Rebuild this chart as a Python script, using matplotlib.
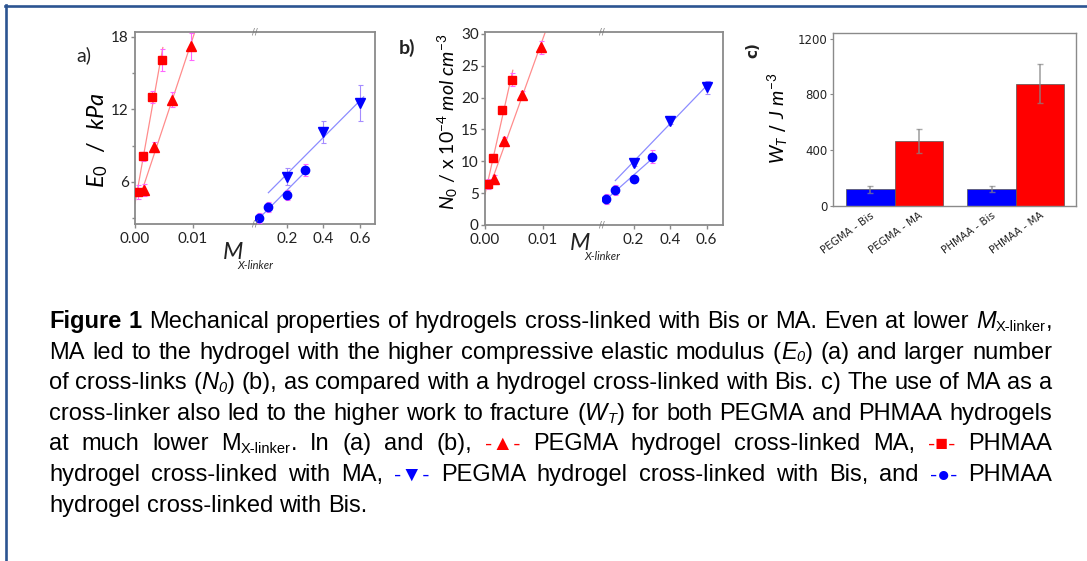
import numpy as np
import matplotlib.pyplot as plt
from matplotlib.transforms import IdentityTransform
from matplotlib.lines import Line2D

W, H = 1087, 561
plt.rcParams['mathtext.fontset'] = 'custom'
plt.rcParams['mathtext.it'] = 'Lato:italic'
plt.rcParams['mathtext.rm'] = 'Lato'
plt.rcParams['mathtext.bf'] = 'Lato:bold'

RED, BLUE = '#ff0000', '#0000ff'
SPINE = '#8a8a8a'

# cross-linker mole fraction
ma_x = [0.0005, 0.0014, 0.0030, 0.0046]       # PHMAA - MA (squares)
ma_x_peg = [0.0016, 0.0033, 0.0064, 0.0096]   # PEGMA - MA (triangles)
bis_x = [0.05, 0.10, 0.20, 0.30]              # PHMAA - Bis (circles)
bis_x_peg = [0.20, 0.40, 0.60]                # PEGMA - Bis (down triangles)

# (a) compressive elastic modulus, kPa
e0_phmaa_ma = [5.15, 8.1, 13.0, 16.1]
e0_phmaa_ma_err = [0.6, 0.4, 0.5, 0.9]
e0_pegma_ma = [5.3, 8.9, 12.8, 17.2]
e0_pegma_ma_err = [0.5, 0.4, 0.6, 1.1]
e0_phmaa_bis = [3.0, 3.9, 4.9, 7.0]
e0_phmaa_bis_err = [0.4, 0.4, 0.4, 0.5]
e0_pegma_bis = [6.4, 10.1, 12.5]
e0_pegma_bis_err = [0.7, 0.9, 1.5]

# (b) cross-link density, x 10^-4 mol cm^-3
n0_phmaa_ma = [6.4, 10.5, 18.1, 22.8]
n0_phmaa_ma_err = [0.8, 0.6, 0.6, 1.0]
n0_pegma_ma = [7.2, 13.2, 20.4, 27.9]
n0_pegma_ma_err = [0.7, 0.6, 0.6, 1.0]
n0_phmaa_bis = [4.1, 5.5, 7.2, 10.7]
n0_phmaa_bis_err = [0.8, 0.8, 0.5, 1.0]
n0_pegma_bis = [9.7, 16.4, 21.6]
n0_pegma_bis_err = [0.5, 0.5, 1.0]

# (c) work to fracture, J m^-3
wt_labels = ['PEGMA - Bis', 'PEGMA - MA', 'PHMAA - Bis', 'PHMAA - MA']
wt_values = [120, 465, 120, 875]
wt_err = [25, 87, 20, 140]
wt_colors = [BLUE, RED, BLUE, RED]
wt_pos = [0, 1, 2.5, 3.5]

fig = plt.figure(figsize=(W / 100, H / 100), dpi=100)
fig.patch.set_facecolor('white')


def px_rect(x0, y0, x1, y1):
    return [x0 / W, 1 - y1 / H, (x1 - x0) / W, (y1 - y0) / H]


def style_axes(ax):
    for s in ax.spines.values():
        s.set_color(SPINE)
        s.set_linewidth(1.3)
    ax.tick_params(colors=SPINE, labelcolor='#222222', length=3, width=1,
                   labelsize=11, pad=1.5)
    ax.tick_params(axis='x', pad=3)
    for lab in ax.get_xticklabels() + ax.get_yticklabels():
        lab.set_fontfamily('Lato')


def broken_axes(x0, xm, x1, y0, y1, lo_lim, hi_lim, ylim):
    axl = fig.add_axes(px_rect(x0, y0, xm, y1))
    axr = fig.add_axes(px_rect(xm, y0, x1, y1), sharey=axl)
    axl.set_xlim(*lo_lim)
    axr.set_xlim(*hi_lim)
    axl.set_ylim(*ylim)
    axl.spines['right'].set_visible(False)
    axr.spines['left'].set_visible(False)
    axl.set_xticks([0, 0.01])
    axl.set_xticklabels(['0.00', '0.01'])
    axr.set_xticks([0.2, 0.4, 0.6])
    axr.set_xticklabels(['0.2', '0.4', '0.6'])
    for yy in (y0, y1):
        fig.text(xm / W, 1 - yy / H, '//', ha='center', va='center',
                 fontsize=6, color='#777777', family='DejaVu Sans')
    return axl, axr


def series(ax, x, y, err, marker, color, ecolor, ms, fit_span):
    x = np.asarray(x)
    y = np.asarray(y)
    p = np.polyfit(x, y, 1)
    xx = np.array(fit_span)
    ax.plot(xx, np.polyval(p, xx), color=color, lw=0.9, alpha=0.45, zorder=2)
    ax.errorbar(x, y, yerr=err, fmt=marker, color=color, ms=ms,
                ecolor=ecolor, elinewidth=0.8, capsize=1.8, capthick=0.8,
                zorder=3, mec=color)


def draw_panel(axl, axr, sq, sq_e, tr, tr_e, ci, ci_e, dt, dt_e):
    series(axl, ma_x, sq, sq_e, 's', RED, '#ff66ff', 5.2, [0.0, 0.0048])
    series(axl, ma_x_peg, tr, tr_e, '^', RED, '#ff66ff', 6.5, [0.0012, 0.0106])
    series(axr, bis_x, ci, ci_e, 'o', BLUE, '#ff66ff', 6.0, [0.04, 0.31])
    series(axr, bis_x_peg, dt, dt_e, 'v', BLUE, '#a58cff', 6.5, [0.10, 0.62])


# panel a
a_l, a_r = broken_axes(135, 255, 375, 32, 224, (0, 0.0207), (0.027, 0.682), (2.5, 18.4))
a_l.set_yticks([6, 12, 18])
a_l.set_yticks([3, 9, 15], minor=True)
draw_panel(a_l, a_r, e0_phmaa_ma, e0_phmaa_ma_err, e0_pegma_ma, e0_pegma_ma_err,
           e0_phmaa_bis, e0_phmaa_bis_err, e0_pegma_bis, e0_pegma_bis_err)

# panel b
b_l, b_r = broken_axes(485, 602, 723, 32, 225, (0, 0.0202), (0.027, 0.69), (0, 30.3))
b_l.set_yticks(np.arange(0, 31, 5))
draw_panel(b_l, b_r, n0_phmaa_ma, n0_phmaa_ma_err, n0_pegma_ma, n0_pegma_ma_err,
           n0_phmaa_bis, n0_phmaa_bis_err, n0_pegma_bis, n0_pegma_bis_err)

for ax in (a_l, a_r, b_l, b_r):
    style_axes(ax)
    ax.tick_params(which='minor', colors=SPINE, length=2, width=1)
    ax.tick_params(which='both', top=False, right=False)
for ax in (a_r, b_r):
    ax.tick_params(which='both', left=False, labelleft=False)

fig.text(98 / W, 1 - 140 / H, r'$E_0\ \ /\ \ kPa$', rotation=90, ha='center',
         va='center', fontsize=17)
fig.text(448 / W, 1 - 122 / H, r'$N_0$ / x 10$^{-4}$ $mol\ cm^{-3}$', rotation=90,
         ha='center', va='center', fontsize=14, family='Lato')

# x-axis labels
for xm, ym in ((223, 259), (570, 250)):
    fig.text(xm / W, 1 - ym / H, 'M', fontsize=17, style='italic', family='Lato',
             ha='left', va='baseline', color='#222222')
    fig.text((xm + 14) / W, 1 - (ym + 10) / H, 'X-linker', fontsize=8,
             style='italic', family='Lato', ha='left', va='baseline', color='#222222')

fig.text(84 / W, 1 - 55 / H, 'a)', fontsize=14, family='Lato', ha='center',
         va='center', color='#222222')
fig.text(407 / W, 1 - 48 / H, 'b)', fontsize=14, family='Lato', weight='bold',
         ha='center', va='center', color='#222222')
fig.text(753 / W, 1 - 50 / H, 'c)', fontsize=11, family='DejaVu Sans', weight='bold',
         rotation=90, ha='center', va='center', color='#222222')

# panel c
axc = fig.add_axes(px_rect(833, 33, 1076, 206))
axc.bar(wt_pos, wt_values, width=1.0, color=wt_colors, edgecolor='#555555',
        linewidth=0.5, yerr=wt_err,
        error_kw=dict(ecolor='#888888', alpha=0.7, capsize=2, elinewidth=1.3))
axc.set_xlim(-0.77, 4.24)
axc.set_ylim(0, 1240)
axc.set_yticks([0, 400, 800, 1200])
axc.set_xticks(wt_pos)
axc.set_xticklabels(wt_labels, rotation=36, ha='right', rotation_mode='anchor',
                    fontsize=7.5)
for s in axc.spines.values():
    s.set_color(SPINE)
    s.set_linewidth(1.0)
axc.tick_params(axis='x', length=0, pad=3, labelcolor='#222222')
axc.tick_params(axis='y', length=2.5, colors=SPINE, labelcolor='#222222', labelsize=8.5, pad=1.5)
fig.text(778 / W, 1 - 118 / H, r'$W_T$ / $J\ m^{-3}$', rotation=90, ha='center',
         va='center', fontsize=14, family='DejaVu Sans')

# outer frame
frame = '#2c5491'
fig.add_artist(Line2D([5 / W, 1], [1 - 6 / H, 1 - 6 / H], color=frame, lw=1.9,
                      transform=fig.transFigure))
fig.add_artist(Line2D([6 / W, 6 / W], [1 - 5 / H, 0], color=frame, lw=1.9,
                      transform=fig.transFigure))

# caption, justified
cap_fs = 17.0
cap_font = ['Liberation Sans', 'DejaVu Sans']
lines = [
    [('Figure 1', 'b'), (' Mechanical properties of hydrogels cross-linked with Bis or MA. Even at lower ', 'n'),
     ('M', 'i'), ('X-linker', 's'), (',', 'n')],
    [('MA led to the hydrogel with the higher compressive elastic modulus (', 'n'), ('E', 'i'), ('0', 'si'),
     (') (a) and larger number', 'n')],
    [('of cross-links (', 'n'), ('N', 'i'), ('0', 'si'),
     (') (b), as compared with a hydrogel cross-linked with Bis. c) The use of MA as a', 'n')],
    [('cross-linker also led to the higher work to fracture (', 'n'), ('W', 'i'), ('T', 'si'),
     (') for both PEGMA and PHMAA hydrogels', 'n')],
    [('at much lower M', 'n'), ('X-linker', 's'), ('. In (a) and (b), ', 'n'), ('-\u25B2-', 'r'),
     (' PEGMA hydrogel cross-linked MA, ', 'n'), ('-\u25A0-', 'r'), (' PHMAA', 'n')],
    [('hydrogel cross-linked with MA, ', 'n'), ('-\u25BC-', 'u'),
     (' PEGMA hydrogel cross-linked with Bis, and ', 'n'), ('-\u25CF-', 'u'), (' PHMAA', 'n')],
    [('hydrogel cross-linked with Bis.', 'n')],
]


def run_kw(st):
    kw = dict(family=cap_font, size=cap_fs, color='black')
    dy = 0
    if st == 'b':
        kw['weight'] = 'bold'
    elif st == 'i':
        kw['style'] = 'italic'
    elif st in ('s', 'si'):
        kw['size'] = cap_fs * 0.62
        dy = -2.8
        if st == 'si':
            kw['style'] = 'italic'
    elif st == 'r':
        kw['color'] = RED
        kw['size'] = cap_fs * 0.9
    elif st == 'u':
        kw['color'] = BLUE
        kw['size'] = cap_fs * 0.9
    return kw, dy


renderer = fig.canvas.get_renderer()


def run_width(text, st):
    kw, _ = run_kw(st)
    t = fig.text(0, 0, text, transform=IdentityTransform(), **kw)
    w = t.get_window_extent(renderer).width
    t.remove()
    return w


def split_words(runs):
    words, cur = [], []
    for text, st in runs:
        parts = text.split(' ')
        for k, part in enumerate(parts):
            if k > 0:
                if cur:
                    words.append(cur)
                cur = []
            if part:
                cur.append((part, st))
    if cur:
        words.append(cur)
    return words


x_left, x_right = 49, 1052
space_w = run_width('a a', 'n') - run_width('aa', 'n')
for i, runs in enumerate(lines):
    base = H - (328 + 30.6 * i)
    words = split_words(runs)
    widths = [sum(run_width(t, s) for t, s in w) for w in words]
    if i < len(lines) - 1 and len(words) > 1:
        gap = (x_right - x_left - sum(widths)) / (len(words) - 1)
    else:
        gap = space_w
    x = x_left
    for w, wd in zip(words, widths):
        xx = x
        for t, s in w:
            kw, dy = run_kw(s)
            fig.text(xx, base + dy, t, transform=IdentityTransform(),
                     ha='left', va='baseline', **kw)
            xx += run_width(t, s)
        x += wd + gap

fig.savefig('out.png', dpi=100, facecolor='white')
